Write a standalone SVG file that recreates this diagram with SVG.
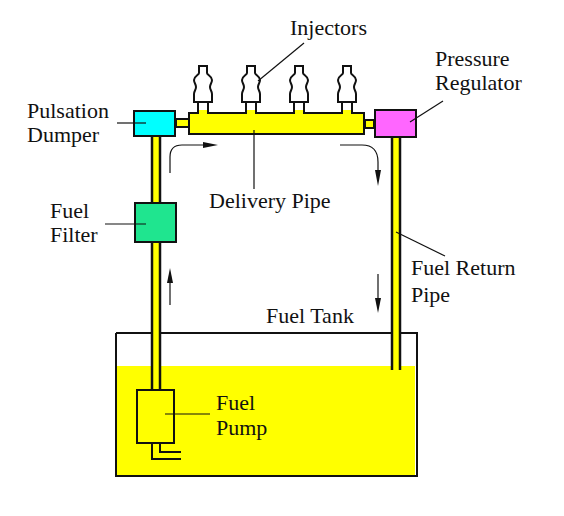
<svg xmlns="http://www.w3.org/2000/svg" width="564" height="516" viewBox="0 0 564 516">
<style>
.o{stroke:#111;stroke-width:2;fill:none}
.p{stroke:#111;stroke-width:2.5;fill:none}
.y{fill:#ff0;stroke:#111;stroke-width:2}
.l{stroke:#111;stroke-width:1.2;fill:none}
.h{fill:#111;stroke:none}
.b{stroke:#111;stroke-width:2}
text{font-family:"Liberation Serif","Times New Roman",serif;font-size:22px;fill:#111}
</style>
<defs>
<g id="inj">
<path d="M-4 102V111H4V102" fill="#fff" stroke="none"/>
<rect x="-4" y="110" width="8" height="5" fill="#ff0"/>
<path class="o" d="M-5 102V113M5 102V113"/>
<path class="o" fill="#fff" d="M-4 66H4V73C4 75 9 76 9 80C9 83 7 84 7 87C7 90 9 91 9 94V102H-9V94C-9 91 -7 90 -7 87C-7 84 -9 83 -9 80C-9 76 -4 75 -4 73Z"/>
</g>
</defs>
<rect width="564" height="516" fill="#fff"/>
<g id="fuel-tank">
<rect x="117" y="366" width="298" height="109" fill="#ff0"/>
<path class="o" d="M116 333V476H417V333H116"/>
<text x="266" y="323">Fuel Tank</text>
</g>
<g id="delivery-pipe">
<rect x="189" y="113" width="175" height="21" class="y"/>
<text x="209" y="208">Delivery Pipe</text>
</g>
<g id="injectors">
<use href="#inj" x="203"/>
<use href="#inj" x="251"/>
<use href="#inj" x="299"/>
<use href="#inj" x="347"/>
<text x="290" y="35">Injectors</text>
</g>
<g id="pulsation-dumper">
<rect x="134" y="111" width="41" height="25" fill="#0ff" class="b"/>
<text x="27" y="118">Pulsation</text>
<text x="27" y="142">Dumper</text>
</g>
<g id="fuel-filter">
<rect x="135" y="203" width="41" height="39" fill="#1fe58f" class="b"/>
<text x="50" y="218">Fuel</text>
<text x="50" y="242">Filter</text>
</g>
<g id="pressure-regulator">
<rect x="375" y="110" width="41" height="27" fill="#ff66ff" class="b"/>
<text x="435" y="66">Pressure</text>
<text x="435" y="90">Regulator</text>
</g>
<g id="fuel-return-pipe">
<text x="411" y="275">Fuel Return</text>
<text x="411" y="302">Pipe</text>
</g>
<g id="fuel-pump">
<rect x="137" y="390" width="37" height="53" class="y"/>
<text x="216" y="410">Fuel</text>
<text x="216" y="435">Pump</text>
</g>
<g id="connectors">
<rect x="153" y="137" width="6" height="65" fill="#ff0"/>
<rect x="153" y="243" width="6" height="146" fill="#ff0"/>
<rect x="393" y="138" width="6" height="228" fill="#ff0"/>
<path class="p" d="M152 137V202M160 137V202M152 243V389M160 243V389M392 138V370M400 138V370"/>
<rect x="176" y="119" width="13" height="8" class="y"/>
<rect x="365" y="120" width="9" height="8" class="y"/>
<path class="o" d="M152 444V459H181M160 444V452H181"/>
<path class="l" d="M170 173V157Q170 145 182 145H205"/>
<path class="h" d="M203 142L218 145L203 148Z"/>
<path class="l" d="M340 145H362Q378 145 378 162V172"/>
<path class="h" d="M375 170L378 186L381 170Z"/>
<path class="l" d="M170 305V280"/>
<path class="h" d="M167 283L170 268L173 283Z"/>
<path class="l" d="M378 274V300"/>
<path class="h" d="M375 298L378 313L381 298Z"/>
<path class="l" d="M258 81L304 43"/>
<path class="l" d="M117 123H146"/>
<path class="l" d="M105 224H146"/>
<path class="l" d="M165 414H210"/>
<path class="l" d="M254 130V189"/>
<path class="l" d="M410 122L443 101"/>
<path class="l" d="M396 232L445 256"/>
</g>
</svg>
